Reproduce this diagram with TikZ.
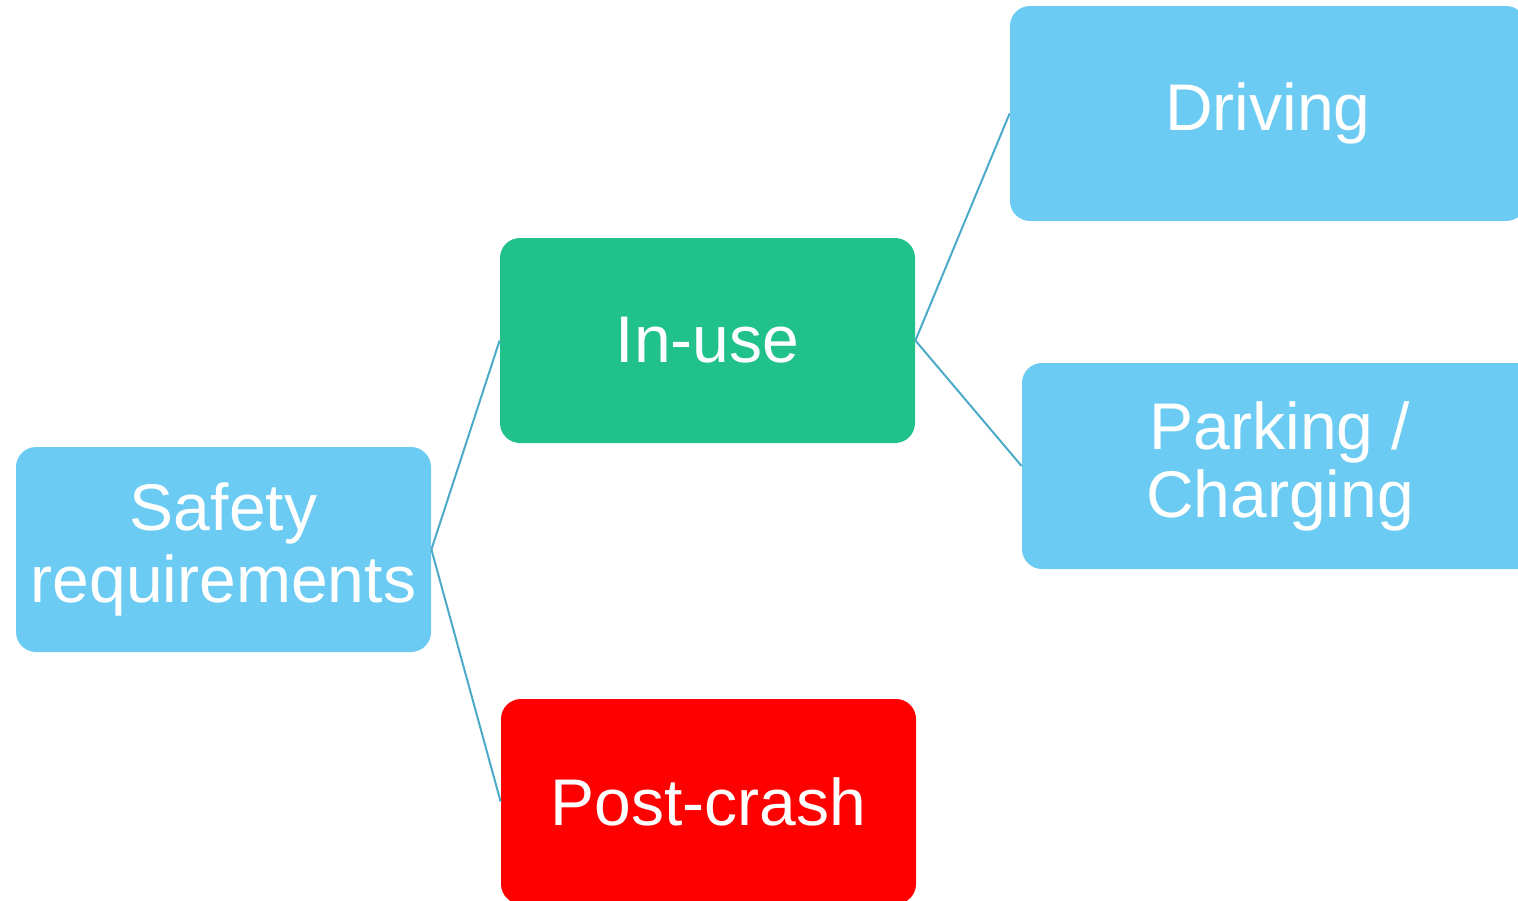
\documentclass[tikz,border=0pt]{standalone}
\usepackage{fontspec}
\setmainfont{Liberation Sans}
\usetikzlibrary{positioning}

\definecolor{skyblue}{RGB}{107,203,242}
\definecolor{usegreen}{RGB}{32,193,138}
\definecolor{crashred}{RGB}{255,0,0}
\definecolor{linkblue}{RGB}{75,170,200}

\begin{document}
\begin{tikzpicture}[
    x=0.5pt,y=-0.5pt,
    box/.style={rectangle,rounded corners=10pt,text=white,align=center,inner sep=0pt,
        minimum width=207.5pt,minimum height=102.5pt,font=\fontsize{33}{36}\selectfont},
    wide/.style={box,minimum width=258pt},
    line/.style={draw=linkblue,line width=1pt}
]
\useasboundingbox (0,0) rectangle (1518,900);
\clip (0,0) rectangle (1518,900);

% Root
\node[box,fill=skyblue] (safety) at (223.5,549.5) {Safety\\requirements};

% Phases
\node[box,fill=usegreen] (inuse) at (707.5,340.5) {In-use};
\node[box,fill=crashred] (crash) at (708.5,801.5) {Post-crash};

% In-use situations
\node[wide,fill=skyblue,minimum height=107.5pt] (driving) at (1268,113.5) {Driving};
\node[wide,fill=skyblue,minimum height=103pt,font=\fontsize{33}{34}\selectfont] (parking) at (1280,466) {Parking /\\Charging};

% Links
\draw[line] (safety.east) -- (inuse.west);
\draw[line] (safety.east) -- (crash.west);

\draw[line] (inuse.east) -- (driving.west);
\draw[line] (inuse.east) -- (parking.west);

\end{tikzpicture}
\end{document}
